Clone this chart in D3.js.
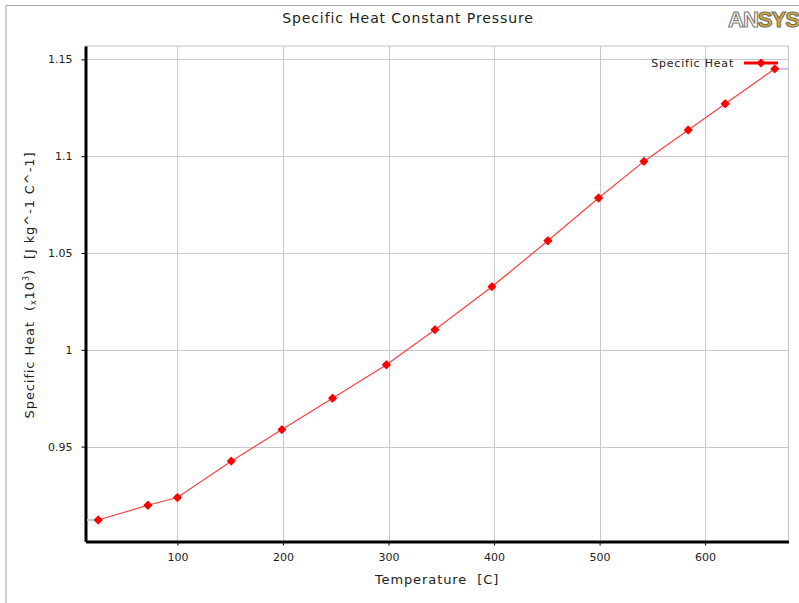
<!DOCTYPE html>
<html>
<head>
<meta charset="utf-8">
<script src="https://cdn.jsdelivr.net/npm/d3@7"></script>
<style>
  body { margin: 0; background: #fff; }
  svg { display: block; font-family: "DejaVu Sans", sans-serif; }
</style>
</head>
<body>
<svg id="chart" width="799" height="603"></svg>
<script>
// data
const temperature = [25, 72, 100, 151, 199, 247, 298, 344, 398, 451, 499, 542, 584, 619, 666];
const specificHeat = [0.9121, 0.9197, 0.9237, 0.9425, 0.9588, 0.975, 0.9923, 1.0104, 1.0326, 1.0563, 1.0784, 1.0973, 1.1135, 1.1271, 1.1451];
const xTicks = [100, 200, 300, 400, 500, 600];
const yTicks = [0.95, 1, 1.05, 1.1, 1.15];
const yTickLabels = ["0.95", "1", "1.05", "1.1", "1.15"];

const svg = d3.select("#chart");
const plotL = 85.5, plotR = 788.5, plotT = 46, plotB = 541.5;

const xScale = d3.scaleLinear().domain([12.9, 679]).range([plotL, plotR]);
const yScale = d3.scaleLinear().domain([0.901, 1.1569]).range([plotB, plotT]);

// outer frame
svg.append("path")
  .attr("d", `M6,603 V5.5 H799`)
  .attr("fill", "none").attr("stroke", "#a0a0a0");

// title
svg.append("text")
  .attr("x", 408).attr("y", 23)
  .attr("text-anchor", "middle")
  .attr("font-size", 14).attr("fill", "#222")
  .attr("letter-spacing", 0.9)
  .text("Specific Heat Constant Pressure");

// logo
const logo = svg.append("text")
  .attr("x", 728).attr("y", 27)
  .attr("font-size", 22).attr("font-weight", "bold")
  .attr("font-family", "Liberation Sans, sans-serif")
  .attr("letter-spacing", -1)
  .attr("stroke-width", 1.2);
logo.append("tspan").attr("fill", "#fff").attr("stroke", "#808080").text("AN");
logo.append("tspan").attr("fill", "#e6b414").attr("stroke", "#707070").text("SYS");

// plot border
svg.append("rect")
  .attr("x", plotL).attr("y", plotT)
  .attr("width", plotR - plotL).attr("height", plotB - plotT)
  .attr("fill", "none").attr("stroke", "#c4c4c4");

// grid
const grid = svg.append("g").attr("stroke", "#c8c8c8").attr("stroke-width", 1);
grid.selectAll(".vx").data(xTicks).join("line")
  .attr("x1", d => Math.round(xScale(d)) + 0.5).attr("x2", d => Math.round(xScale(d)) + 0.5)
  .attr("y1", plotT).attr("y2", plotB);
grid.selectAll(".hy").data(yTicks).join("line")
  .attr("y1", d => Math.round(yScale(d)) + 0.5).attr("y2", d => Math.round(yScale(d)) + 0.5)
  .attr("x1", plotL).attr("x2", plotR);

// axes
const xAxis = svg.append("g")
  .attr("transform", `translate(0,${plotB})`)
  .call(d3.axisBottom(xScale).tickValues(xTicks).tickSize(4).tickPadding(8).tickSizeOuter(0));
const yAxis = svg.append("g")
  .attr("transform", `translate(${plotL},0)`)
  .call(d3.axisLeft(yScale).tickValues(yTicks).tickFormat((d, i) => yTickLabels[i])
    .tickSize(4).tickPadding(9).tickSizeOuter(0));

[xAxis, yAxis].forEach(ax => {
  ax.select(".domain").attr("stroke", "#000").attr("stroke-width", 3);
  ax.selectAll(".tick line").attr("stroke", "#000");
  ax.selectAll("text").attr("font-size", 11).attr("fill", "#222")
    .attr("font-family", "DejaVu Sans, sans-serif");
});

// axis titles
svg.append("text")
  .attr("x", (plotL + plotR) / 2).attr("y", 584)
  .attr("text-anchor", "middle")
  .attr("font-size", 13).attr("fill", "#222")
  .attr("letter-spacing", 0.9)
  .attr("xml:space", "preserve")
  .text("Temperature  [C]");

const yLab = svg.append("text")
  .attr("transform", "translate(34,285) rotate(-90)")
  .attr("text-anchor", "middle")
  .attr("font-size", 13).attr("fill", "#222")
  .attr("letter-spacing", 0.9)
  .attr("xml:space", "preserve");
yLab.append("tspan").text("Specific Heat  (");
yLab.append("tspan").attr("font-size", 8).attr("dy", 2).text("x");
yLab.append("tspan").attr("dy", -2).text("10");
yLab.append("tspan").attr("font-size", 8).attr("dy", -5).text("3");
yLab.append("tspan").attr("dy", 5).text(")  [J kg^-1 C^-1]");

// extrapolation stubs
const first = 0, last = temperature.length - 1;
svg.append("line")
  .attr("x1", xScale.range()[0] + 1.5).attr("x2", xScale(temperature[first]))
  .attr("y1", yScale(specificHeat[first])).attr("y2", yScale(specificHeat[first]))
  .attr("stroke", "#c4c4ff").attr("stroke-width", 2);
svg.append("line")
  .attr("x1", xScale(temperature[last])).attr("x2", xScale.range()[1])
  .attr("y1", yScale(specificHeat[last])).attr("y2", yScale(specificHeat[last]))
  .attr("stroke", "#c4c4ff").attr("stroke-width", 2);

// series
const pts = temperature.map((t, i) => [t, specificHeat[i]]);
svg.append("path")
  .datum(pts)
  .attr("fill", "none")
  .attr("stroke", "#ff4040").attr("stroke-width", 1.2)
  .attr("d", d3.line().x(d => xScale(d[0])).y(d => yScale(d[1])));

const marker = d3.symbol().type(d3.symbolDiamond2).size(36);
svg.selectAll(".pt").data(pts).join("path")
  .attr("transform", d => `translate(${xScale(d[0])},${yScale(d[1])})`)
  .attr("d", marker)
  .attr("fill", "#ff0000").attr("stroke", "#ff0000").attr("stroke-width", 1.2)
  .attr("stroke-linejoin", "round");

// legend
const legY = 63;
svg.append("text")
  .attr("x", 734).attr("y", legY + 3.5)
  .attr("text-anchor", "end")
  .attr("font-size", 11).attr("fill", "#222")
  .attr("letter-spacing", 0.8)
  .text("Specific Heat");
svg.append("line")
  .attr("x1", 744).attr("x2", 778).attr("y1", legY).attr("y2", legY)
  .attr("stroke", "#ff0000").attr("stroke-width", 3);
svg.append("path")
  .attr("transform", `translate(761,${legY})`)
  .attr("d", marker)
  .attr("fill", "#ff0000").attr("stroke", "#ff0000").attr("stroke-width", 1.2);
</script>
</body>
</html>
